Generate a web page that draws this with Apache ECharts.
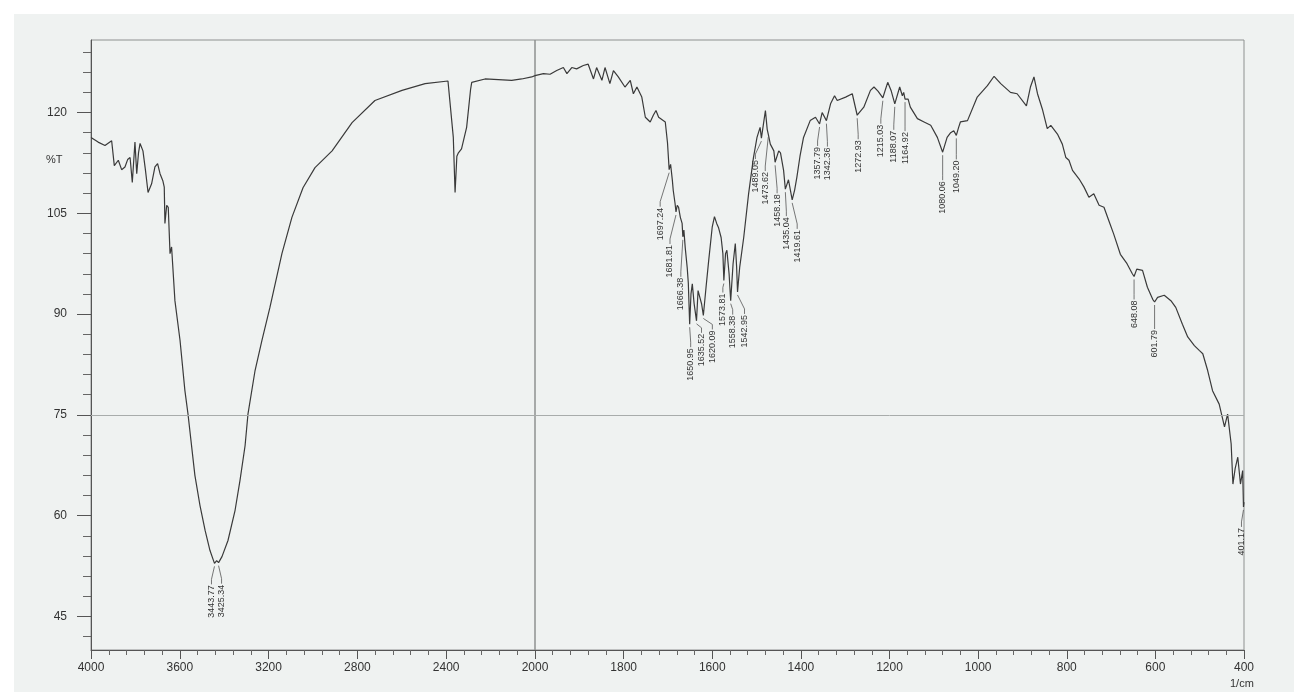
<!DOCTYPE html>
<html>
<head>
<meta charset="utf-8">
<title>IR spectrum</title>
<script src="https://cdn.jsdelivr.net/npm/echarts@6/dist/echarts.min.js"></script>
<style>
  html, body { margin: 0; padding: 0; background: #ffffff; }
  #chart { width: 1294px; height: 692px; }
</style>
</head>
<body>
<div id="chart"></div>
<script>
// Wavenumber (1/cm) and transmittance (%T) of the recorded spectrum
const wavenumbers = [
  4000, 3968, 3937, 3907, 3895, 3877, 3862, 3847, 3835, 3824, 3814, 3802, 3794, 3786, 3779, 3766,
  3755, 3743, 3727, 3712, 3700, 3689, 3676, 3670, 3667, 3659, 3652, 3644, 3637, 3622, 3599, 3577,
  3563, 3532, 3509, 3486, 3464, 3443.77, 3434, 3425.34, 3410, 3383, 3351, 3329, 3306, 3293, 3261,
  3230, 3194, 3140, 3095, 3045, 2991, 2914, 2824, 2721, 2599, 2495, 2392, 2383, 2368, 2360, 2352,
  2345, 2331, 2308, 2290, 2285, 2225, 2105, 2060, 2015, 2000,
  1981, 1966, 1951, 1936, 1928, 1917, 1906, 1891, 1880, 1868, 1861, 1849, 1842, 1831, 1823, 1812,
  1797, 1785, 1778, 1770, 1759, 1751, 1740, 1733, 1727, 1721, 1706, 1701, 1697.24, 1694, 1690,
  1688, 1684, 1681.81, 1679, 1676, 1672, 1668, 1666.38, 1664, 1661, 1656.5, 1654, 1650.95, 1648,
  1645, 1641, 1635.52, 1632, 1628, 1624, 1620.09, 1614, 1608, 1600, 1595, 1590, 1586, 1580, 1576,
  1573.81, 1570, 1567, 1562, 1558.38, 1553, 1548, 1545, 1542.95, 1538, 1529, 1518, 1507, 1499,
  1492, 1489.05, 1484, 1480, 1476, 1473.62, 1469, 1461, 1458.18, 1450, 1446, 1439, 1435.04, 1428,
  1425, 1419.61, 1414, 1409, 1402, 1394, 1379, 1367, 1357.79, 1352, 1342.36, 1333, 1324, 1318,
  1299, 1284, 1272.93, 1258, 1243, 1235, 1226, 1215.03, 1204, 1196, 1188.07, 1177, 1171, 1168,
  1164.92, 1158, 1153, 1137, 1122, 1107, 1092, 1080.06, 1070, 1062, 1055, 1049.20, 1044, 1040,
  1024, 1002, 979, 964, 949, 927, 912, 891, 882, 874, 866, 855, 844, 836, 821, 810, 802, 795, 787,
  772, 761, 750, 739, 727, 716, 705, 694, 679, 664, 652, 648.08, 642, 629, 618, 606, 601.79, 595,
  580, 565, 554, 539, 527, 512, 501, 493, 482, 471, 456, 444, 437, 429, 425, 420, 414, 408, 403,
  401.17, 400
];
const transmittance = [
  116.3, 115.6, 115.1, 115.8, 112.1, 112.9, 111.5, 111.9, 113.0, 113.3, 109.6, 115.6, 110.9, 114.0, 115.4, 114.3,
  111.5, 108.1, 109.4, 111.9, 112.4, 110.9, 109.8, 108.9, 103.5, 106.2, 105.9, 99.0, 100.0, 92.0, 86.1, 78.6,
  75.1, 66.0, 61.5, 57.8, 54.8, 52.9, 53.3, 53.0, 53.9, 56.3, 60.8, 65.2, 70.4, 75.1, 81.6,
  86.1, 91.0, 99.0, 104.4, 108.8, 111.8, 114.3, 118.5, 121.8, 123.3, 124.3, 124.7, 124.8, 116.3, 108.1, 113.5,
  114.0, 114.6, 117.8, 123.5, 124.5, 125.0, 124.8, 125.0, 125.3, 125.5,
  125.8, 125.7, 126.25, 126.7, 125.8, 126.7, 126.5, 127.0, 127.2, 125.0, 126.7, 124.8, 126.7, 124.3, 126.25, 125.3,
  123.8, 124.8, 122.8, 123.8, 122.3, 119.3, 118.6, 119.6, 120.3, 119.3, 118.6, 115.5, 111.5, 112.3, 109.9,
  108.4, 106.5, 105.2, 106.2, 105.9, 104.4, 103.5, 101.5, 102.5, 99.9, 96.9, 94.6, 88.5, 93.0,
  94.5, 91.6, 89.0, 93.5, 92.5, 91.5, 89.8, 94.0, 98.0, 103.0, 104.5, 103.5, 102.9, 101.4, 99.0,
  95.0, 99.0, 99.5, 96.0, 92.0, 97.5, 100.5, 97.0, 93.3, 97.0, 101.4, 107.9, 113.3, 116.3,
  117.8, 116.2, 118.5, 120.3, 117.5, 116.8, 115.3, 114.3, 112.6, 114.3, 114.0, 111.4, 108.6, 110.0,
  109.9, 107.0, 108.5, 110.4, 113.5, 116.3, 118.8, 119.3, 118.3, 120.0, 118.8, 121.3, 122.5, 121.8,
  122.3, 122.8, 119.6, 120.8, 123.3, 123.8, 123.2, 122.2, 124.5, 123.2, 121.3, 123.8, 122.5, 123.0,
  122.0, 122.0, 120.8, 119.1, 118.6, 118.1, 116.3, 114.1, 116.3, 117.0, 117.3, 116.6, 117.8, 118.6,
  118.8, 122.3, 124.0, 125.4, 124.3, 123.0, 122.8, 121.0, 123.8, 125.3, 122.8, 120.5, 117.6, 118.1, 116.8, 115.3, 113.3, 112.9, 111.4,
  110.1, 108.9, 107.4, 107.9, 106.2, 105.9, 103.9, 101.9, 98.9, 97.5, 96.0, 95.6, 96.7, 96.5, 94.0, 92.2, 91.8, 92.5,
  92.8, 92.0, 91.0, 88.5, 86.6, 85.3, 84.6, 84.1, 81.6, 78.6, 76.6, 73.2, 75.1, 70.7, 64.7, 67.0, 68.7, 64.7, 66.7,
  61.3, 62.0
];

// Picked peaks (1/cm)
const peakWavenumbers = [
  3443.77, 3425.34, 1697.24, 1681.81, 1666.38, 1650.95, 1635.52, 1620.09, 1573.81, 1558.38,
  1542.95, 1489.05, 1473.62, 1458.18, 1435.04, 1419.61, 1357.79, 1342.36, 1272.93, 1215.03,
  1188.07, 1164.92, 1080.06, 1049.20, 648.08, 601.79, 401.17
];
// Where each peak tag sits relative to its peak point, in pixels [dx, dy]
const peakTagOffsets = [
  [-3, 22], [3, 22], [-9, 38], [-6, 33], [-2, 41], [1, 24], [5, 13], [9, 15], [-1, 13], [2, 15],
  [7, 23], [-6, 22], [-3, 38], [2, 32], [1, 28], [5, 30], [-2, 23], [1, 27], [1, 25], [-2, 27],
  [-1, 27], [0, 33], [0, 29], [0, 25], [0, 24], [0, 28], [-2, 21]
];

// Transmittance axis ticks
const yLabelValues = [45, 60, 75, 90, 105, 120];
const yMinorValues = [42, 48, 51, 54, 57, 63, 66, 69, 72, 78, 81, 84, 87, 93, 96, 99, 102, 108, 111, 114, 117, 123, 126, 129];
const Y_MIN = 40, Y_MAX = 130.8;

const points = wavenumbers.map((w, i) => [w, transmittance[i]]);
const highRange = points.filter(p => p[0] >= 2000);
const lowRange = points.filter(p => p[0] <= 2000);

const peakItems = peakWavenumbers.map((w, k) => [w, transmittance[wavenumbers.indexOf(w)], k]);
const peakHigh = peakItems.filter(p => p[0] >= 2000);
const peakLow = peakItems.filter(p => p[0] < 2000);

const INK = '#333333';
const FONT = 'Liberation Sans, Arial, sans-serif';
const plainNumber = v => String(v);

function renderPeakTag(params, api) {
  const w = api.value(0), t = api.value(1), k = api.value(2);
  const p = api.coord([w, t]);
  const off = peakTagOffsets[k];
  const lx = p[0] + off[0];
  const ly = p[1] + off[1];
  const bendY = Math.max(p[1] + 4, ly - 6);
  return {
    type: 'group',
    children: [
      {
        type: 'polyline',
        shape: { points: [[p[0], p[1] + 3], [lx, bendY], [lx, ly - 1]] },
        style: { stroke: '#555', lineWidth: 0.8, fill: null }
      },
      {
        type: 'text',
        x: lx,
        y: ly,
        rotation: Math.PI / 2,
        style: {
          text: peakWavenumbers[k].toFixed(2),
          fontSize: 9,
          fontFamily: FONT,
          fill: INK,
          align: 'right',
          verticalAlign: 'middle'
        }
      }
    ]
  };
}

const refLine = {
  silent: true,
  symbol: 'none',
  label: { show: false },
  lineStyle: { color: '#a8acab', width: 1, type: 'solid' },
  data: [{ yAxis: 75 }]
};

const chart = echarts.init(document.getElementById('chart'), null, { renderer: 'canvas' });

chart.setOption({
  backgroundColor: '#ffffff',
  animation: false,
  graphic: [
    { type: 'rect', silent: true, z: -10, shape: { x: 14, y: 14, width: 1280, height: 678 }, style: { fill: '#eff2f1' } },
    { type: 'text', left: 46, top: 154, style: { text: '%T', fontSize: 11, fontFamily: FONT, fill: INK } },
    { type: 'text', left: 1230, top: 678, style: { text: '1/cm', fontSize: 11, fontFamily: FONT, fill: INK } }
  ],
  grid: [
    { left: 91, top: 40, width: 444, height: 610, show: true, borderColor: '#8e9190', borderWidth: 1, backgroundColor: 'transparent' },
    { left: 535, top: 40, width: 709, height: 610, show: true, borderColor: '#8e9190', borderWidth: 1, backgroundColor: 'transparent' }
  ],
  xAxis: [
    {
      gridIndex: 0, type: 'value', inverse: true, min: 2000, max: 4000, interval: 400,
      axisLine: { show: true, lineStyle: { color: '#555' } },
      axisTick: { show: true, length: 9, lineStyle: { color: '#555' } },
      minorTick: { show: true, splitNumber: 5, length: 5, lineStyle: { color: '#666' } },
      axisLabel: { margin: 12, fontSize: 12, fontFamily: FONT, color: INK, formatter: plainNumber },
      splitLine: { show: false }
    },
    {
      gridIndex: 1, type: 'value', inverse: true, min: 400, max: 2000, interval: 200,
      axisLine: { show: true, lineStyle: { color: '#555' } },
      axisTick: { show: true, length: 9, lineStyle: { color: '#555' } },
      minorTick: { show: true, splitNumber: 5, length: 5, lineStyle: { color: '#666' } },
      axisLabel: { margin: 12, fontSize: 12, fontFamily: FONT, color: INK, showMaxLabel: false, formatter: plainNumber },
      splitLine: { show: false }
    }
  ],
  yAxis: [
    {
      gridIndex: 0, type: 'value', min: Y_MIN, max: Y_MAX, position: 'left',
      axisLine: { show: true, lineStyle: { color: '#555' } },
      axisTick: { show: true, length: 14, customValues: yLabelValues, lineStyle: { color: '#555' } },
      axisLabel: { customValues: yLabelValues, margin: 24, fontSize: 12, fontFamily: FONT, color: INK, formatter: plainNumber },
      splitLine: { show: false }
    },
    {
      gridIndex: 0, type: 'value', min: Y_MIN, max: Y_MAX, position: 'left',
      axisLine: { show: false },
      axisTick: { show: true, length: 8, customValues: yMinorValues, lineStyle: { color: '#666' } },
      axisLabel: { show: false },
      splitLine: { show: false }
    },
    {
      gridIndex: 1, type: 'value', min: Y_MIN, max: Y_MAX, show: false
    }
  ],
  series: [
    {
      type: 'line', xAxisIndex: 0, yAxisIndex: 0, data: highRange,
      showSymbol: false, smooth: false, clip: true,
      lineStyle: { color: '#3a3a3a', width: 1.2 },
      markLine: refLine
    },
    {
      type: 'line', xAxisIndex: 1, yAxisIndex: 2, data: lowRange,
      showSymbol: false, smooth: false, clip: true,
      lineStyle: { color: '#3a3a3a', width: 1.2 },
      markLine: refLine
    },
    {
      type: 'custom', xAxisIndex: 0, yAxisIndex: 0, data: peakHigh,
      encode: { x: 0, y: 1 }, clip: false, renderItem: renderPeakTag, z: 5
    },
    {
      type: 'custom', xAxisIndex: 1, yAxisIndex: 2, data: peakLow,
      encode: { x: 0, y: 1 }, clip: false, renderItem: renderPeakTag, z: 5
    }
  ]
});
</script>
</body>
</html>
